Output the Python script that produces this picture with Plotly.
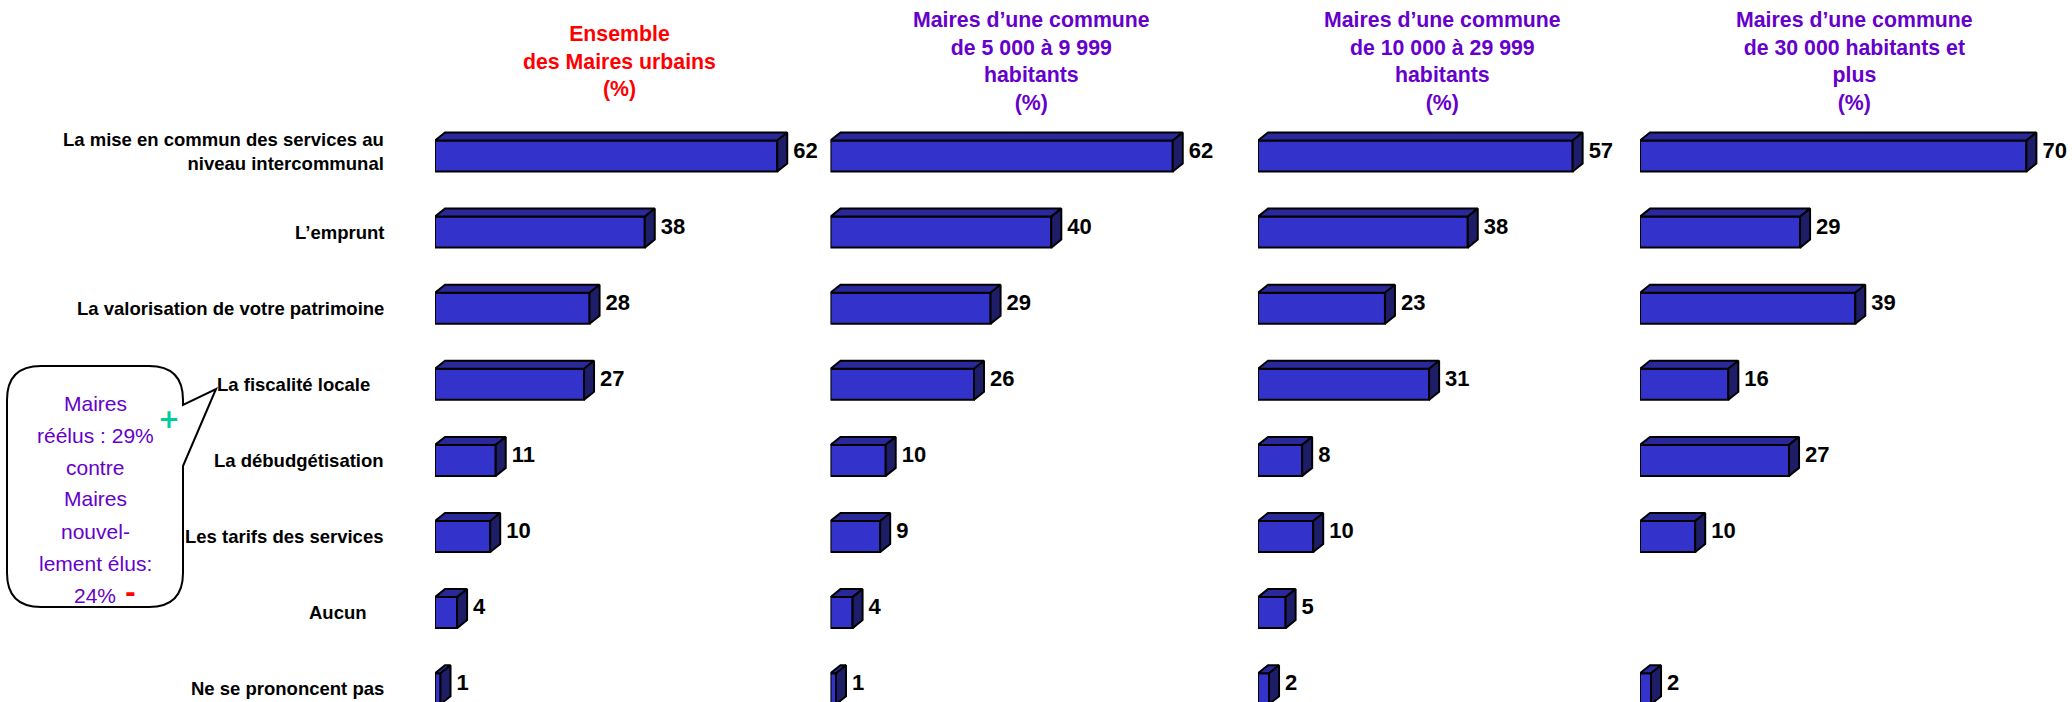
import plotly.graph_objects as go

# ---------------- data ----------------
categories = [
    "La mise en commun des services au<br>niveau intercommunal",
    "L’emprunt",
    "La valorisation de votre patrimoine",
    "La fiscalité locale",
    "La débudgétisation",
    "Les tarifs des services",
    "Aucun",
    "Ne se prononcent pas",
]
panel_titles = [
    "Ensemble<br>des Maires urbains<br>(%)",
    "Maires d’une commune<br>de 5 000 à 9 999<br>habitants<br>(%)",
    "Maires d’une commune<br>de 10 000 à 29 999<br>habitants<br>(%)",
    "Maires d’une commune<br>de 30 000 habitants et<br>plus<br>(%)",
]
ensemble = [62, 38, 28, 27, 11, 10, 4, 1]
communes_5000_9999 = [62, 40, 29, 26, 10, 9, 4, 1]
communes_10000_29999 = [57, 38, 23, 31, 8, 10, 5, 2]
communes_30000_plus = [70, 29, 39, 16, 27, 10, None, 2]
series = [ensemble, communes_5000_9999, communes_10000_29999, communes_30000_plus]

bubble_lines = ["Maires", "réélus : 29%", "contre", "Maires", "nouvel-", "lement élus:", "24%"]

# ---------------- layout constants ----------------
W, H = 2072, 702
PX_PER_UNIT = 5.52
panel_left = [435, 830.5, 1258, 1640]
panel_right = [830.5, 1258, 1640, 2072]
title_cx = [619, 1031, 1442, 1854]
title_colors = ["#FF0000", "#6600CC", "#6600CC", "#6600CC"]
ROW0, ROW_STEP = 156, 76.1
BAR_H = 31 / ROW_STEP
DX = 10 / PX_PER_UNIT
DY = 8 / ROW_STEP
LABEL_GAP = 6 / PX_PER_UNIT
label_xshift = [0, 0, 0, -14, 0, 0, -17, 0]
label_yshift = [5, 0, 0, 0, 0, 0, 0, 0]

FRONT = "#3333CC"
TOP = "#29299C"
SIDE = "#1E1E68"
FONT = "Liberation Sans, Arial, sans-serif"

fig = go.Figure()
layout_axes = {}

for p, vals in enumerate(series):
    xa = "x" if p == 0 else f"x{p+1}"
    xa_key = "xaxis" if p == 0 else f"xaxis{p+1}"
    idx = [i for i, v in enumerate(vals) if v is not None]
    vv = [vals[i] for i in idx]

    fig.add_trace(go.Bar(
        x=vv, y=idx, orientation="h", width=BAR_H,
        marker=dict(color=FRONT, line=dict(color="black", width=2)),
        xaxis=xa, yaxis="y", hoverinfo="skip",
    ))

    tx, ty, sx, sy = [], [], [], []
    for i, v in zip(idx, vv):
        yt = i - BAR_H / 2
        yb = i + BAR_H / 2
        tx += [0, DX, v + DX, v, 0, None]
        ty += [yt, yt - DY, yt - DY, yt, yt, None]
        sx += [v, v + DX, v + DX, v, v, None]
        sy += [yt, yt - DY, yb - DY, yb, yt, None]
    fig.add_trace(go.Scatter(
        x=tx, y=ty, mode="lines", fill="toself", fillcolor=TOP,
        line=dict(color="black", width=2), xaxis=xa, yaxis="y", hoverinfo="skip",
    ))
    fig.add_trace(go.Scatter(
        x=sx, y=sy, mode="lines", fill="toself", fillcolor=SIDE,
        line=dict(color="black", width=2), xaxis=xa, yaxis="y", hoverinfo="skip",
    ))
    fig.add_trace(go.Scatter(
        x=[v + DX + LABEL_GAP for v in vv], y=[i - DY / 2 for i in idx], mode="text",
        text=[f"<b>{v}</b>" for v in vv], textposition="middle right",
        textfont=dict(family=FONT, size=22, color="black"),
        xaxis=xa, yaxis="y", hoverinfo="skip", cliponaxis=False,
    ))

    layout_axes[xa_key] = dict(
        domain=[panel_left[p] / W, panel_right[p] / W],
        range=[0, (panel_right[p] - panel_left[p]) / PX_PER_UNIT],
        visible=False, anchor="y", fixedrange=True,
    )

annotations = []
for i, c in enumerate(categories):
    annotations.append(dict(
        x=386 / W, xref="paper", y=i, yref="y", xanchor="right", yanchor="middle",
        text=f"<b>{c}</b>", showarrow=False, align="right",
        xshift=label_xshift[i], yshift=label_yshift[i],
        font=dict(family=FONT, size=18.5, color="black"),
    ))
for p, t in enumerate(panel_titles):
    annotations.append(dict(
        x=title_cx[p] / W, xref="paper", y=1 - 62 / H, yref="paper",
        xanchor="center", yanchor="middle", text=f"<b>{t}</b>", showarrow=False,
        align="center", font=dict(family=FONT, size=21.3, color=title_colors[p]),
    ))

# speech bubble
def px(x, y):
    return f"{x / W:.5f},{1 - y / H:.5f}"

L, R, T, B, r = 7, 183, 366, 607, 34
path = (
    f"M{px(L + r, T)} L{px(R - r, T)} Q{px(R, T)} {px(R, T + r)} "
    f"L{px(R, 405)} L{px(216, 389)} L{px(R, 466)} "
    f"L{px(R, B - r)} Q{px(R, B)} {px(R - r, B)} L{px(L + r, B)} "
    f"Q{px(L, B)} {px(L, B - r)} L{px(L, T + r)} Q{px(L, T)} {px(L + r, T)} Z"
)
shapes = [dict(type="path", path=path, xref="paper", yref="paper",
               line=dict(color="black", width=2), fillcolor="white", layer="above")]

for k, line in enumerate(bubble_lines):
    annotations.append(dict(
        x=95 / W, xref="paper", y=1 - (403 + 32 * k) / H, yref="paper",
        xanchor="center", yanchor="middle", text=line, showarrow=False,
        font=dict(family=FONT, size=21, color="#6600CC"),
    ))
annotations.append(dict(
    x=169 / W, xref="paper", y=1 - 419 / H, yref="paper", xanchor="center",
    yanchor="middle", text="<b>+</b>", showarrow=False,
    font=dict(family="DejaVu Sans, sans-serif", size=26, color="#00CC99"),
))
annotations.append(dict(
    x=130 / W, xref="paper", y=1 - 593 / H, yref="paper", xanchor="center",
    yanchor="middle", text="<b>-</b>", showarrow=False,
    font=dict(family="DejaVu Sans, sans-serif", size=26, color="#FF0000"),
))

fig.update_layout(
    width=W, height=H, margin=dict(l=0, r=0, t=0, b=0),
    paper_bgcolor="white", plot_bgcolor="white", showlegend=False,
    barmode="overlay",
    yaxis=dict(range=[(H - ROW0) / ROW_STEP, -ROW0 / ROW_STEP], visible=False,
               domain=[0, 1], fixedrange=True),
    annotations=annotations, shapes=shapes,
    **layout_axes,
)

fig.write_html(
    "out.html",
    config={"displayModeBar": False, "staticPlot": True},
    post_script="document.body.style.margin='0px';document.body.style.padding='0px';"
                "document.body.style.overflow='hidden';",
)
